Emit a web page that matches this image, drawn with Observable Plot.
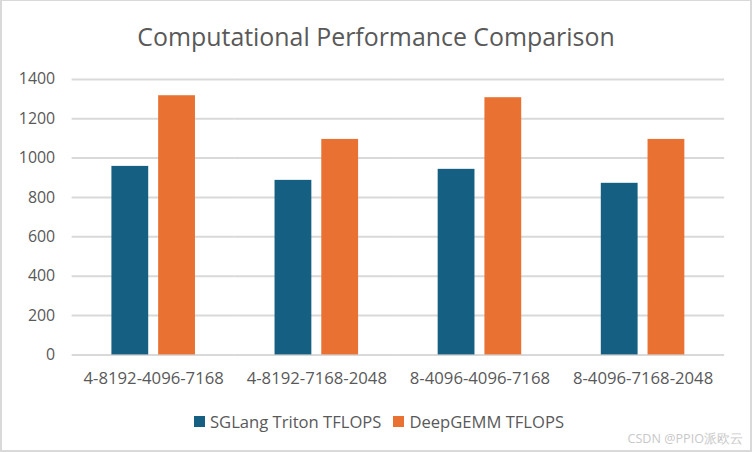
<!DOCTYPE html>
<html>
<head>
<meta charset="utf-8">
<script src="https://cdn.jsdelivr.net/npm/d3@7"></script>
<script src="https://cdn.jsdelivr.net/npm/@observablehq/plot@0.6"></script>
<style>
  html, body { margin: 0; padding: 0; background: #fff; }
  #chart {
    position: relative; width: 752px; height: 452px; box-sizing: border-box;
    border: 2px solid #d9d9d9; border-top: 1px solid #d9d9d9; border-left: 2px solid #d9d9d9;
    font-family: "Open Sans", sans-serif; color: #595959; overflow: hidden;
  }
  #title {
    position: absolute; left: 0; top: 0; width: 100%; height: 60px;
    text-align: center; line-height: 70px; font-size: 24.9px;
  }
  #plot { position: absolute; left: -2px; top: 59px; }
  #legend {
    position: absolute; top: 409px; left: 0; width: 100%;
    display: flex; justify-content: center; gap: 12px; font-size: 16.6px; padding-left: 6px; box-sizing: border-box;
  }
  .item { display: flex; align-items: center; gap: 5px; }
  .sw { width: 11px; height: 11px; display: inline-block; }
  #wm { position: absolute; right: 7px; top: 429px; font-size: 12.6px; color: #c8c8c8; }
  #plot svg g[aria-label="fx-axis tick label"] text { font-size: 16.8px; }
</style>
</head>
<body>
<div id="chart">
  <div id="title">Computational Performance Comparison</div>
  <div id="plot"></div>
  <div id="legend"></div>
  <div id="wm">CSDN @PPIO派欧云</div>
</div>
<script>
const categories = ["4-8192-4096-7168", "4-8192-7168-2048", "8-4096-4096-7168", "8-4096-7168-2048"];
const seriesNames = ["SGLang Triton TFLOPS", "DeepGEMM TFLOPS"];
const sglangValues = [958, 887, 943, 872];
const deepgemmValues = [1317, 1095, 1307, 1095];
const yTicks = [0, 200, 400, 600, 800, 1000, 1200, 1400];
const colors = ["#156082", "#E97132"];

const data = [];
categories.forEach((c, i) => {
  data.push({category: c, series: seriesNames[0], value: sglangValues[i]});
  data.push({category: c, series: seriesNames[1], value: deepgemmValues[i]});
});

const chart = Plot.plot({
  width: 754,
  height: 341,
  marginTop: 19,
  marginBottom: 45,
  marginLeft: 72,
  marginRight: 26,
  style: {fontFamily: "Open Sans, sans-serif", fontSize: "16px", color: "#595959", background: "transparent"},
  fx: {domain: categories, padding: 0, label: null, axis: "bottom", tickSize: 0, tickPadding: 17},
  x: {domain: seriesNames, paddingInner: 0.213, paddingOuter: 0.851, axis: null},
  y: {domain: [0, 1400], ticks: yTicks, label: null, tickSize: 0, tickPadding: 17, tickFormat: d => String(d)},
  color: {domain: seriesNames, range: colors},
  marks: [
    Plot.gridY(yTicks, {stroke: "#d9d9d9", strokeOpacity: 1, strokeWidth: 2}),
    Plot.barY(data, {fx: "category", x: "series", y: "value", fill: "series"})
  ]
});
document.getElementById("plot").appendChild(chart);

const legend = document.getElementById("legend");
seriesNames.forEach((s, i) => {
  const it = document.createElement("div");
  it.className = "item";
  it.innerHTML = `<span class="sw" style="background:${colors[i]}"></span><span>${s}</span>`;
  legend.appendChild(it);
});
</script>
</body>
</html>
